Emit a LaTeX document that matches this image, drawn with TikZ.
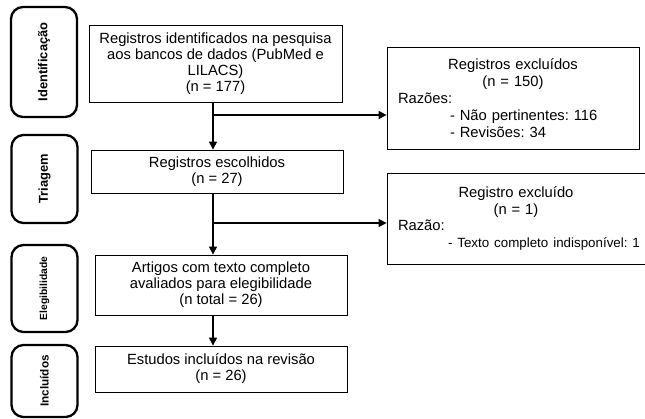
\documentclass[tikz,border=0pt]{standalone}
\usepackage{fontspec}
\usepackage{graphicx}
\setmainfont{Liberation Sans}
\frenchspacing
\usetikzlibrary{positioning,arrows.meta}
\tikzset{
    phase/.style={
        rectangle, rounded corners=0.36cm,
        draw, line width=2pt, minimum width=1.98cm,
        inner sep=0pt, font=\bfseries\fontsize{11}{12}\selectfont
    },
    stepbox/.style={
        rectangle, draw, line width=0.7pt,
        minimum width=7.56cm, inner sep=2pt,
        align=center, font=\fontsize{12.6}{13.6}\selectfont
    },
    exclbox/.style={
        rectangle, draw, line width=0.7pt,
        inner xsep=0.33cm, inner ysep=2pt, align=left,
        font=\fontsize{12.6}{14.4}\selectfont
    }
}

\begin{document}
\begin{tikzpicture}[x=0.03cm, y=-0.03cm, >={Triangle[length=0.24cm,width=0.24cm]}]
        \useasboundingbox (0,0) rectangle (645,418);

        % Phases
        \node[phase, minimum height=3.3cm] (ident) at (44,62) {\rotatebox{90}{Identificação}};
        \node[phase, minimum height=2.64cm] (triag) at (44.5,179) {\rotatebox{90}{Triagem}};
        \node[phase, minimum height=2.61cm, font=\bfseries\fontsize{8.8}{10}\selectfont] (eleg) at (44.5,288.5) {\rotatebox{90}{Elegibilidade}};
        \node[phase, minimum height=2.16cm, font=\bfseries\fontsize{10}{11}\selectfont] (incl) at (44.5,381) {\rotatebox{90}{Incluídos}};

        % Main flow
        \node[stepbox, minimum width=7.59cm, minimum height=2.31cm] (regid) at (215.5,63.5)
            {Registros identificados na pesquisa\\aos bancos de dados (PubMed e\\LILACS)\\(n = 177)};
        \node[stepbox, minimum height=1.29cm] (regesc) at (217,171.5) {Registros escolhidos\\(n = 27)};
        \node[stepbox, minimum height=1.8cm] (artig) at (221,285)
            {Artigos com texto completo\\avaliados para elegibilidade\\(n total = 26)};
        \node[stepbox, minimum height=1.38cm] (estud) at (221,369) {Estudos incluídos na revisão\\(n = 26)};

        % Exclusions
        \node[exclbox, text width=6.9cm, minimum height=3.06cm] (excl1) at (513,98)
            {{\centering Registros excluídos\\(n = 150)\par}
             Razões:\\
             \hspace*{1.56cm}- Não pertinentes: 116\\
             \hspace*{1.56cm}- Revisões: 34};
        \node[exclbox, text width=7.08cm, minimum height=2.73cm] (excl2) at (516,218.5)
            {{\centering Registro excluído\\(n = 1)\par}
             Razão:\\
             \hspace*{1.5cm}\mbox{\fontsize{11.4}{14.4}\selectfont - Texto completo indisponível: 1}\\[0.3cm]};

        % Arrows
        \coordinate (b1) at (213,115);
        \coordinate (b2) at (213,223);
        \draw[->, line width=0.9pt] (regid.south -| b1) -- (regesc.north -| b1);
        \draw[->, line width=0.9pt] (regesc.south -| b1) -- (artig.north -| b1);
        \draw[->, line width=0.9pt] (artig.south -| b1) -- (estud.north -| b1);

        \draw[->, line width=0.9pt] (b1) -- (b1 -| excl1.west);
        \draw[->, line width=0.9pt] (b2) -- (b2 -| excl2.west);

    \end{tikzpicture}
\end{document}
